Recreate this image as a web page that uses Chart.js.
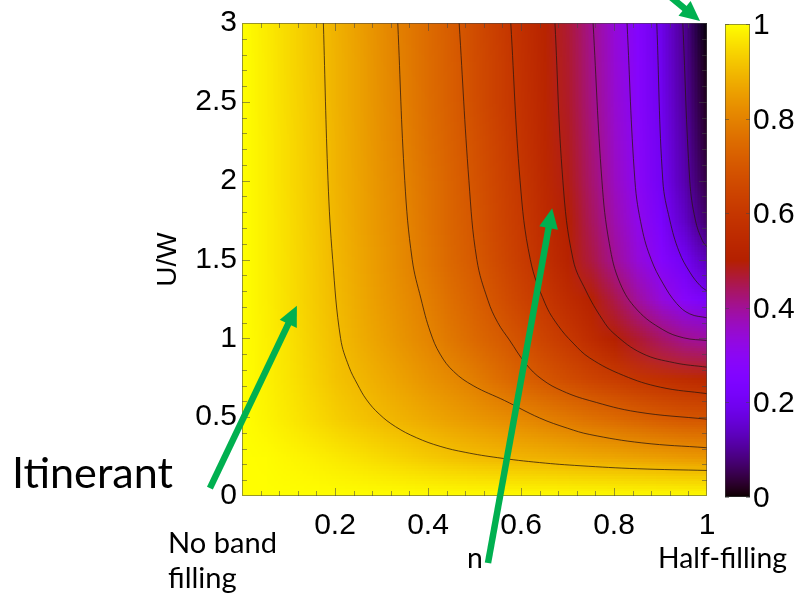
<!DOCTYPE html>
<html>
<head>
<meta charset="utf-8">
<title>Z(n, U/W)</title>
<script src="https://cdn.jsdelivr.net/npm/chart.js@4.4.1/dist/chart.umd.min.js"></script>
<style>
  html, body { margin: 0; padding: 0; background: #fff; }
  #wrap { width: 799px; height: 600px; }
</style>
</head>
<body>
<div id="wrap"><canvas id="myChart" width="799" height="600"></canvas></div>
<script>
// Grid: filling n (columns) and U/W (rows, from top to bottom)
const nValues = [0, 0.05, 0.1, 0.15, 0.2, 0.25, 0.3, 0.35, 0.4, 0.45, 0.5,
                 0.55, 0.6, 0.65, 0.7, 0.75, 0.8, 0.85, 0.9, 0.95, 1];
const uValues = [3, 2.75, 2.5, 2.25, 2, 1.75, 1.5, 1.25, 1, 0.75, 0.5, 0.25, 0];

// Z values, one row for each U/W
const zU300 = [1.00, 0.975, 0.947, 0.918, 0.887, 0.855, 0.820, 0.785, 0.748, 0.712, 0.668, 0.622, 0.575, 0.523, 0.466, 0.405, 0.338, 0.265, 0.186, 0.098, 0.000];
const zU275 = [1.00, 0.976, 0.948, 0.919, 0.888, 0.857, 0.822, 0.788, 0.751, 0.715, 0.671, 0.626, 0.579, 0.527, 0.471, 0.410, 0.343, 0.270, 0.190, 0.102, 0.007];
const zU250 = [1.00, 0.976, 0.949, 0.920, 0.889, 0.858, 0.824, 0.790, 0.753, 0.717, 0.674, 0.629, 0.582, 0.531, 0.475, 0.415, 0.348, 0.275, 0.195, 0.107, 0.015];
const zU225 = [1.00, 0.977, 0.950, 0.922, 0.890, 0.860, 0.827, 0.795, 0.759, 0.723, 0.682, 0.637, 0.590, 0.537, 0.482, 0.422, 0.356, 0.284, 0.202, 0.115, 0.025];
const zU200 = [1.00, 0.977, 0.951, 0.924, 0.891, 0.861, 0.830, 0.800, 0.764, 0.728, 0.689, 0.644, 0.598, 0.543, 0.488, 0.429, 0.363, 0.292, 0.208, 0.122, 0.040];
const zU175 = [1.00, 0.978, 0.953, 0.926, 0.894, 0.864, 0.834, 0.804, 0.769, 0.733, 0.696, 0.651, 0.606, 0.554, 0.500, 0.441, 0.380, 0.313, 0.233, 0.145, 0.065];
const zU150 = [1.00, 0.979, 0.955, 0.928, 0.897, 0.868, 0.839, 0.809, 0.776, 0.740, 0.704, 0.661, 0.617, 0.568, 0.516, 0.459, 0.400, 0.338, 0.273, 0.207, 0.130];
const zU125 = [1.00, 0.980, 0.957, 0.930, 0.901, 0.874, 0.846, 0.819, 0.790, 0.755, 0.721, 0.683, 0.642, 0.600, 0.555, 0.509, 0.453, 0.394, 0.335, 0.280, 0.230];
const zU100 = [1.00, 0.981, 0.960, 0.934, 0.906, 0.881, 0.856, 0.830, 0.805, 0.775, 0.745, 0.714, 0.680, 0.642, 0.604, 0.555, 0.505, 0.470, 0.435, 0.405, 0.390];
const zU075 = [1.00, 0.983, 0.963, 0.940, 0.915, 0.896, 0.875, 0.854, 0.833, 0.813, 0.788, 0.756, 0.725, 0.695, 0.668, 0.642, 0.616, 0.593, 0.575, 0.558, 0.540];
const zU050 = [1.00, 0.987, 0.970, 0.952, 0.933, 0.916, 0.900, 0.885, 0.870, 0.855, 0.840, 0.825, 0.810, 0.795, 0.778, 0.761, 0.744, 0.727, 0.710, 0.697, 0.690];
const zU025 = [1.00, 0.997, 0.990, 0.982, 0.972, 0.961, 0.949, 0.937, 0.926, 0.915, 0.905, 0.897, 0.891, 0.885, 0.878, 0.872, 0.866, 0.859, 0.853, 0.846, 0.840];
const zU000 = [1.00, 1.00, 1.00, 1.00, 1.00, 1.00, 1.00, 1.00, 1.00, 1.00, 1.00, 1.00, 1.00, 1.00, 1.00, 1.00, 1.00, 1.00, 1.00, 1.00, 1.00];

// Contour lines Z = 0.9 ... 0.1, as [n, U/W] points
const level90 = [[0.175, 3], [0.185, 2], [0.195, 1.5], [0.212, 1.0], [0.23, 0.82], [0.248, 0.71], [0.268, 0.61], [0.295, 0.52], [0.33, 0.44], [0.375, 0.37], [0.426, 0.315], [0.48, 0.277], [0.55, 0.243], [0.64, 0.212], [0.727, 0.192], [0.85, 0.173], [1.0, 0.162]];
const level80 = [[0.335, 3], [0.35, 2], [0.366, 1.5], [0.385, 1.25], [0.405, 1.04], [0.426, 0.9], [0.455, 0.79], [0.497, 0.70], [0.565, 0.605], [0.64, 0.495], [0.70, 0.43], [0.748, 0.39], [0.86, 0.337], [1.0, 0.306]];
const level70 = [[0.467, 3], [0.488, 2], [0.505, 1.5], [0.529, 1.24], [0.55, 1.1], [0.575, 0.99], [0.61, 0.84], [0.645, 0.74], [0.69, 0.665], [0.748, 0.605], [0.85, 0.533], [1.0, 0.487]];
const level60 = [[0.578, 3], [0.598, 2], [0.62, 1.5], [0.652, 1.22], [0.68, 1.08], [0.712, 0.97], [0.748, 0.875], [0.82, 0.765], [0.9, 0.69], [1.0, 0.649]];
const level50 = [[0.673, 3], [0.69, 2], [0.712, 1.5], [0.74, 1.3], [0.775, 1.12], [0.80, 1.03], [0.86, 0.905], [0.93, 0.845], [1.0, 0.817]];
const level40 = [[0.755, 3], [0.774, 2], [0.79, 1.6], [0.813, 1.35], [0.85, 1.18], [0.905, 1.055], [0.95, 1.003], [1.0, 0.986]];
const level30 = [[0.828, 3], [0.845, 2], [0.86, 1.7], [0.88, 1.5], [0.905, 1.35], [0.935, 1.22], [0.963, 1.155], [1.0, 1.13]];
const level20 = [[0.892, 3], [0.905, 2], [0.92, 1.75], [0.94, 1.55], [0.963, 1.42], [0.985, 1.335], [1.0, 1.30]];
const level10 = [[0.948, 3], [0.963, 2], [0.975, 1.75], [0.99, 1.62], [1.0, 1.58]];

// Tick labels
const xTicks = [0.2, 0.4, 0.6, 0.8, 1];
const yTicks = [0, 0.5, 1, 1.5, 2, 2.5, 3];
const barTicks = [0, 0.2, 0.4, 0.6, 0.8, 1];

// Green arrows, tail and head in (n, U/W)
const arrowTails = [[-0.069, 0.05], [0.529, -0.425], [0.835, 3.375]];
const arrowHeads = [[0.118, 1.206], [0.667, 1.825], [0.985, 3.012]];

const zRows = [zU300, zU275, zU250, zU225, zU200, zU175, zU150, zU125, zU100, zU075, zU050, zU025, zU000];
const contourLines = [level90, level80, level70, level60, level50, level40, level30, level20, level10];

const tickFont = '"Liberation Sans", Arial, Helvetica, sans-serif';
const noteFont = 'Lato, "Open Sans", sans-serif';
const green = '#00b050';
const frameColor = 'rgba(70, 70, 70, 0.55)';

// gnuplot palette 7,5,15
function gnuplotColor(v) {
  v = Math.min(1, Math.max(0, v));
  const r = Math.sqrt(v);
  const g = v * v * v;
  const b = Math.max(0, Math.sin(2 * Math.PI * v));
  return [Math.round(r * 255), Math.round(g * 255), Math.round(b * 255)];
}

// Color map drawn under the contour lines
const heatmapPlugin = {
  id: 'heatmap',
  beforeDatasetsDraw(chart) {
    const { ctx, chartArea: a, scales: { x, y } } = chart;
    const off = document.createElement('canvas');
    off.width = nValues.length;
    off.height = uValues.length;
    const octx = off.getContext('2d');
    const img = octx.createImageData(off.width, off.height);
    zRows.forEach((row, j) => {
      row.forEach((z, i) => {
        const c = gnuplotColor(z);
        const k = (j * off.width + i) * 4;
        img.data[k] = c[0];
        img.data[k + 1] = c[1];
        img.data[k + 2] = c[2];
        img.data[k + 3] = 255;
      });
    });
    octx.putImageData(img, 0, 0);

    const dn = nValues[1] - nValues[0];
    const du = uValues[0] - uValues[1];
    const left = x.getPixelForValue(nValues[0] - dn / 2);
    const right = x.getPixelForValue(nValues[nValues.length - 1] + dn / 2);
    const top = y.getPixelForValue(uValues[0] + du / 2);
    const bottom = y.getPixelForValue(uValues[uValues.length - 1] - du / 2);

    ctx.save();
    ctx.beginPath();
    ctx.rect(a.left, a.top, a.width, a.height);
    ctx.clip();
    ctx.imageSmoothingEnabled = true;
    ctx.imageSmoothingQuality = 'low';
    ctx.drawImage(off, left, top, right - left, bottom - top);
    ctx.restore();
  }
};

// Box and inward ticks on all four sides
const framePlugin = {
  id: 'frame',
  afterDatasetsDraw(chart) {
    const { ctx, chartArea: a, scales: { x, y } } = chart;
    ctx.save();
    ctx.strokeStyle = frameColor;
    ctx.lineWidth = 1;
    ctx.beginPath();
    for (let k = 1; k < 25; k++) {
      const px = Math.round(x.getPixelForValue(k * 0.04)) + 0.5;
      const len = k % 5 === 0 ? 8 : 5;
      ctx.moveTo(px, a.bottom); ctx.lineTo(px, a.bottom - len);
      ctx.moveTo(px, a.top); ctx.lineTo(px, a.top + len);
    }
    for (let k = 1; k < 30; k++) {
      const py = Math.round(y.getPixelForValue(k * 0.1)) + 0.5;
      const len = k % 5 === 0 ? 8 : 5;
      ctx.moveTo(a.left, py); ctx.lineTo(a.left + len, py);
      ctx.moveTo(a.right, py); ctx.lineTo(a.right - len, py);
    }
    ctx.stroke();
    ctx.strokeRect(a.left + 0.5, a.top + 0.5, a.width - 1, a.height - 1);
    ctx.restore();
  }
};

function drawArrow(ctx, x0, y0, x1, y1) {
  const ang = Math.atan2(y1 - y0, x1 - x0);
  const headLen = 20, headHalf = 9.5;
  const bx = x1 - headLen * Math.cos(ang);
  const by = y1 - headLen * Math.sin(ang);
  ctx.strokeStyle = green;
  ctx.fillStyle = green;
  ctx.lineWidth = 6.5;
  ctx.beginPath();
  ctx.moveTo(x0, y0);
  ctx.lineTo(bx + 2 * Math.cos(ang), by + 2 * Math.sin(ang));
  ctx.stroke();
  ctx.beginPath();
  ctx.moveTo(x1, y1);
  ctx.lineTo(bx + headHalf * Math.sin(ang), by - headHalf * Math.cos(ang));
  ctx.lineTo(bx - headHalf * Math.sin(ang), by + headHalf * Math.cos(ang));
  ctx.closePath();
  ctx.fill();
}

// font size that gives the text a set width
function fitSize(ctx, text, width, family) {
  ctx.font = '100px ' + family;
  return 100 * width / ctx.measureText(text).width;
}

// Colour bar, arrows and notes
const overlayPlugin = {
  id: 'overlay',
  afterDraw(chart) {
    const { ctx, chartArea: a, scales: { x, y } } = chart;
    ctx.save();

    // colour bar
    const bx = a.right + 18, bw = 25;
    const yTop = a.top + 1, yBot = a.bottom + 1;
    for (let py = yTop; py < yBot; py++) {
      const c = gnuplotColor((yBot - py - 0.5) / (yBot - yTop));
      ctx.fillStyle = 'rgb(' + c.join(',') + ')';
      ctx.fillRect(bx, py, bw, 1);
    }
    ctx.strokeStyle = frameColor;
    ctx.lineWidth = 1;
    ctx.strokeRect(bx + 0.5, yTop + 0.5, bw - 1, yBot - yTop - 1);
    ctx.fillStyle = '#000';
    ctx.font = '30px ' + tickFont;
    ctx.textAlign = 'left';
    ctx.textBaseline = 'middle';
    barTicks.forEach(v => {
      const py = Math.round(yBot - v * (yBot - yTop)) + 0.5;
      ctx.beginPath();
      ctx.moveTo(bx, py); ctx.lineTo(bx + 4, py);
      ctx.moveTo(bx + bw, py); ctx.lineTo(bx + bw - 4, py);
      ctx.stroke();
      ctx.fillText(String(v), bx + bw + 3, py + 1);
    });

    // arrows
    arrowTails.forEach((t, i) => {
      const h = arrowHeads[i];
      drawArrow(ctx, x.getPixelForValue(t[0]), y.getPixelForValue(t[1]),
                x.getPixelForValue(h[0]), y.getPixelForValue(h[1]));
    });

    // notes
    ctx.fillStyle = '#000';
    ctx.textAlign = 'left';
    ctx.textBaseline = 'alphabetic';
    let size = fitSize(ctx, 'Itinerant', 161, noteFont);
    ctx.font = size + 'px ' + noteFont;
    ctx.fillText('Itinerant', 12, 488);

    size = fitSize(ctx, 'No band', 109, noteFont);
    ctx.font = size + 'px ' + noteFont;
    ctx.fillText('No band', 168, 553);
    ctx.fillText('filling', 168, 588);

    size = fitSize(ctx, 'Half-filling', 129, noteFont);
    ctx.font = size + 'px ' + noteFont;
    ctx.fillText('Half-filling', 658, 568);
    ctx.fillText('n', 467, 568);

    ctx.restore();
  }
};

const ctx = document.getElementById('myChart');
new Chart(ctx, {
  type: 'scatter',
  data: {
    datasets: contourLines.map((pts, k) => ({
      label: 'Z = ' + (0.9 - k * 0.1).toFixed(1),
      data: pts.map(p => ({ x: p[0], y: p[1] })),
      showLine: true,
      pointRadius: 0,
      borderColor: 'rgba(40, 22, 15, 0.75)',
      borderWidth: 1,
      tension: 0.4,
      fill: false
    }))
  },
  options: {
    responsive: false,
    animation: false,
    layout: { padding: { left: 150, top: 16, right: 92, bottom: 0 } },
    plugins: {
      legend: { display: false },
      tooltip: { enabled: false }
    },
    scales: {
      x: {
        type: 'linear',
        min: 0,
        max: 1,
        grid: { display: false, drawTicks: false },
        border: { display: false },
        afterBuildTicks: s => { s.ticks = xTicks.map(v => ({ value: v })); },
        afterFit: s => { s.height = 104; },
        ticks: {
          color: '#000',
          font: { family: tickFont, size: 30 },
          padding: 12,
          maxRotation: 0,
          callback: v => String(v)
        }
      },
      y: {
        type: 'linear',
        min: 0,
        max: 3,
        grid: { display: false, drawTicks: false },
        border: { display: false },
        afterBuildTicks: s => { s.ticks = yTicks.map(v => ({ value: v })); },
        afterFit: s => { s.width = 92; },
        ticks: {
          color: '#000',
          font: { family: tickFont, size: 30 },
          padding: 5,
          callback: v => String(v)
        },
        title: {
          display: true,
          text: 'U/W',
          color: '#000',
          font: { family: tickFont, size: 28 },
          padding: { top: 1, bottom: 0 }
        }
      }
    }
  },
  plugins: [heatmapPlugin, framePlugin, overlayPlugin]
});
</script>
</body>
</html>
